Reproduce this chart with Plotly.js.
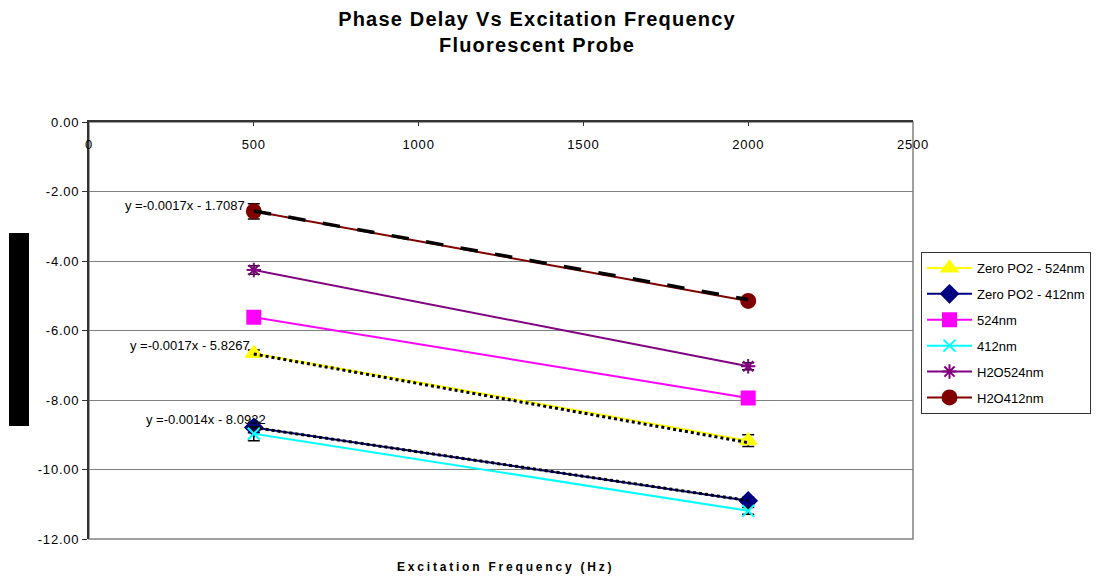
<!DOCTYPE html>
<html>
<head>
<meta charset="utf-8">
<script src="https://cdn.plot.ly/plotly-3.0.1.min.js"></script>
<style>
  html, body { margin: 0; padding: 0; background: #fff; }
  #chart { width: 1099px; height: 579px; }
  /* spaced-out lettering, as in the original spreadsheet rendering */
  g.annotation[data-index="0"] text { letter-spacing: 2.8px; }
  .gtitle { letter-spacing: 1.2px; }
  .xtick text, .ytick text { letter-spacing: 0.8px; }
</style>
</head>
<body>
<div id="chart"></div>
<script>
// Excitation frequencies (Hz)
const freq = [500, 2000];

// Phase delay readings (degrees) per probe condition
const seriesNames = ["Zero PO2 - 524nm", "Zero PO2 - 412nm", "524nm", "412nm", "H2O524nm", "H2O412nm"];
const zeroPO2_524 = [-6.66, -9.17];
const zeroPO2_412 = [-8.79, -10.90];
const nm524 = [-5.62, -7.94];
const nm412 = [-8.97, -11.19];
const h2o524 = [-4.26, -7.03];
const h2o412 = [-2.57, -5.15];

// Standard errors for each reading
const err_zeroPO2_524 = [0.10, 0.17];
const err_zeroPO2_412 = [0.15, 0.10];
const err_nm524 = [0.05, 0.15];
const err_nm412 = [0.20, 0.10];
const err_h2o524 = [0.12, 0.10];
const err_h2o412 = [0.22, 0.10];

// Linear fits (y = slope * x + intercept)
const fitSeries = ["H2O412nm", "Zero PO2 - 524nm", "Zero PO2 - 412nm"];
const fitSlope = [-0.0017, -0.0017, -0.0014];
const fitIntercept = [-1.7087, -5.8267, -8.0932];

// Axis ticks
const xTicks = [0, 500, 1000, 1500, 2000, 2500];
const yTicks = [0, -2, -4, -6, -8, -10, -12];
const yTickText = ["0.00", "-2.00", "-4.00", "-6.00", "-8.00", "-10.00", "-12.00"];

const FONT = "Arial, Liberation Sans, sans-serif";

const styles = [
  {color: "#FFFF00", symbol: "triangle-up", size: 14},
  {color: "#000080", symbol: "diamond", size: 13},
  {color: "#FF00FF", symbol: "square", size: 13},
  {color: "#00FFFF", symbol: "x-thin-open", size: 12},
  {color: "#800080", symbol: "asterisk-open", size: 12},
  {color: "#800000", symbol: "circle", size: 14}
];
const values = [zeroPO2_524, zeroPO2_412, nm524, nm412, h2o524, h2o412];
const errors = [err_zeroPO2_524, err_zeroPO2_412, err_nm524, err_nm412, err_h2o524, err_h2o412];

const traces = values.map((v, i) => ({
  type: "scatter",
  mode: "lines+markers",
  name: seriesNames[i],
  legendgroup: "g" + i,
  x: freq,
  y: v,
  line: {color: styles[i].color, width: 2},
  marker: {
    color: styles[i].color,
    symbol: styles[i].symbol,
    size: styles[i].size,
    line: {color: styles[i].color, width: 2}
  },
  error_y: {type: "data", array: errors[i], visible: true, color: "#000", thickness: 1.5, width: 6}
}));

// Fitted trend lines drawn over the data
const fitDash = ["longdash", "dot", "dot"];
const fitWidth = [3.5, 3, 3];
fitSlope.forEach((m, i) => {
  traces.push({
    type: "scatter",
    mode: "lines",
    showlegend: false,
    hoverinfo: "skip",
    x: freq,
    y: freq.map(f => m * f + fitIntercept[i]),
    line: {color: "#000", width: fitWidth[i], dash: fitDash[i]}
  });
});

const eqText = fitSlope.map((m, i) =>
  "y =" + m.toFixed(4) + "x - " + Math.abs(fitIntercept[i]).toFixed(4));
const eqPos = [
  {x: 480, y: -2.39},
  {x: 496, y: -6.42},
  {x: 543, y: -8.56}
];

const annotations = [
  {
    text: "Excitation Frequency (Hz)",
    xref: "paper", yref: "paper",
    x: (505 - 89) / 824, y: -0.068,
    xanchor: "center", yanchor: "middle",
    showarrow: false,
    font: {family: FONT, size: 12, color: "#000", weight: "bold"}
  },
  {
    text: "Phase Delay (Degrees)",
    xref: "paper", yref: "paper",
    x: (18.5 - 89) / 824, y: (539 - 330) / 417,
    xanchor: "center", yanchor: "middle",
    textangle: -90,
    width: 190, height: 17,
    bgcolor: "#000",
    showarrow: false,
    font: {family: FONT, size: 12, color: "#000", weight: "bold"}
  }
].concat(eqText.map((t, i) => ({
  text: t,
  xref: "x", yref: "y",
  x: eqPos[i].x, y: eqPos[i].y,
  xanchor: "right", yanchor: "middle",
  showarrow: false,
  font: {family: FONT, size: 13, color: "#000"}
})));

const layout = {
  width: 1099,
  height: 579,
  paper_bgcolor: "#fff",
  plot_bgcolor: "#fff",
  margin: {l: 89, r: 186, t: 122, b: 40, pad: 0, autoexpand: false},
  showlegend: true,
  title: {
    text: "<b>Phase Delay Vs Excitation Frequency<br>Fluorescent Probe</b>",
    font: {family: FONT, size: 20, color: "#000"},
    x: 537 / 1099, xref: "container", xanchor: "center",
    y: 0.955, yref: "container", yanchor: "top"
  },
  xaxis: {
    range: [0, 2500],
    tickvals: xTicks,
    side: "top",
    ticklabelposition: "inside",
    ticklabeloverflow: "allow",
    ticks: "inside",
    ticklen: 4,
    tickcolor: "#333",
    showgrid: false,
    zeroline: false,
    showline: true,
    linecolor: "#333",
    linewidth: 2,
    tickfont: {family: FONT, size: 13, color: "#000"},
    ticklabelstandoff: 14,
    fixedrange: true
  },
  yaxis: {
    range: [-12, 0],
    tickvals: yTicks,
    ticktext: yTickText,
    ticks: "outside",
    ticklabelposition: "outside",
    ticklabeloverflow: "allow",
    ticklen: 5,
    tickcolor: "#333",
    showgrid: true,
    gridcolor: "#808080",
    gridwidth: 1,
    zeroline: false,
    showline: true,
    linecolor: "#333",
    linewidth: 2,
    tickfont: {family: FONT, size: 13, color: "#000"},
    fixedrange: true
  },
  shapes: [{
    type: "rect", xref: "paper", yref: "paper",
    x0: 0, x1: 1, y0: 0, y1: 1,
    line: {color: "#808080", width: 1.5},
    layer: "below"
  }],
  legend: {
    x: (921 - 89) / 824, y: (539 - 252) / 417,
    xanchor: "left", yanchor: "top",
    bgcolor: "#fff",
    bordercolor: "#333",
    borderwidth: 1,
    tracegroupgap: 6,
    itemwidth: 45,
    font: {family: FONT, size: 13, color: "#000"}
  },
  annotations: annotations
};

Plotly.newPlot("chart", traces, layout, {displayModeBar: false, staticPlot: true});
</script>
</body>
</html>
